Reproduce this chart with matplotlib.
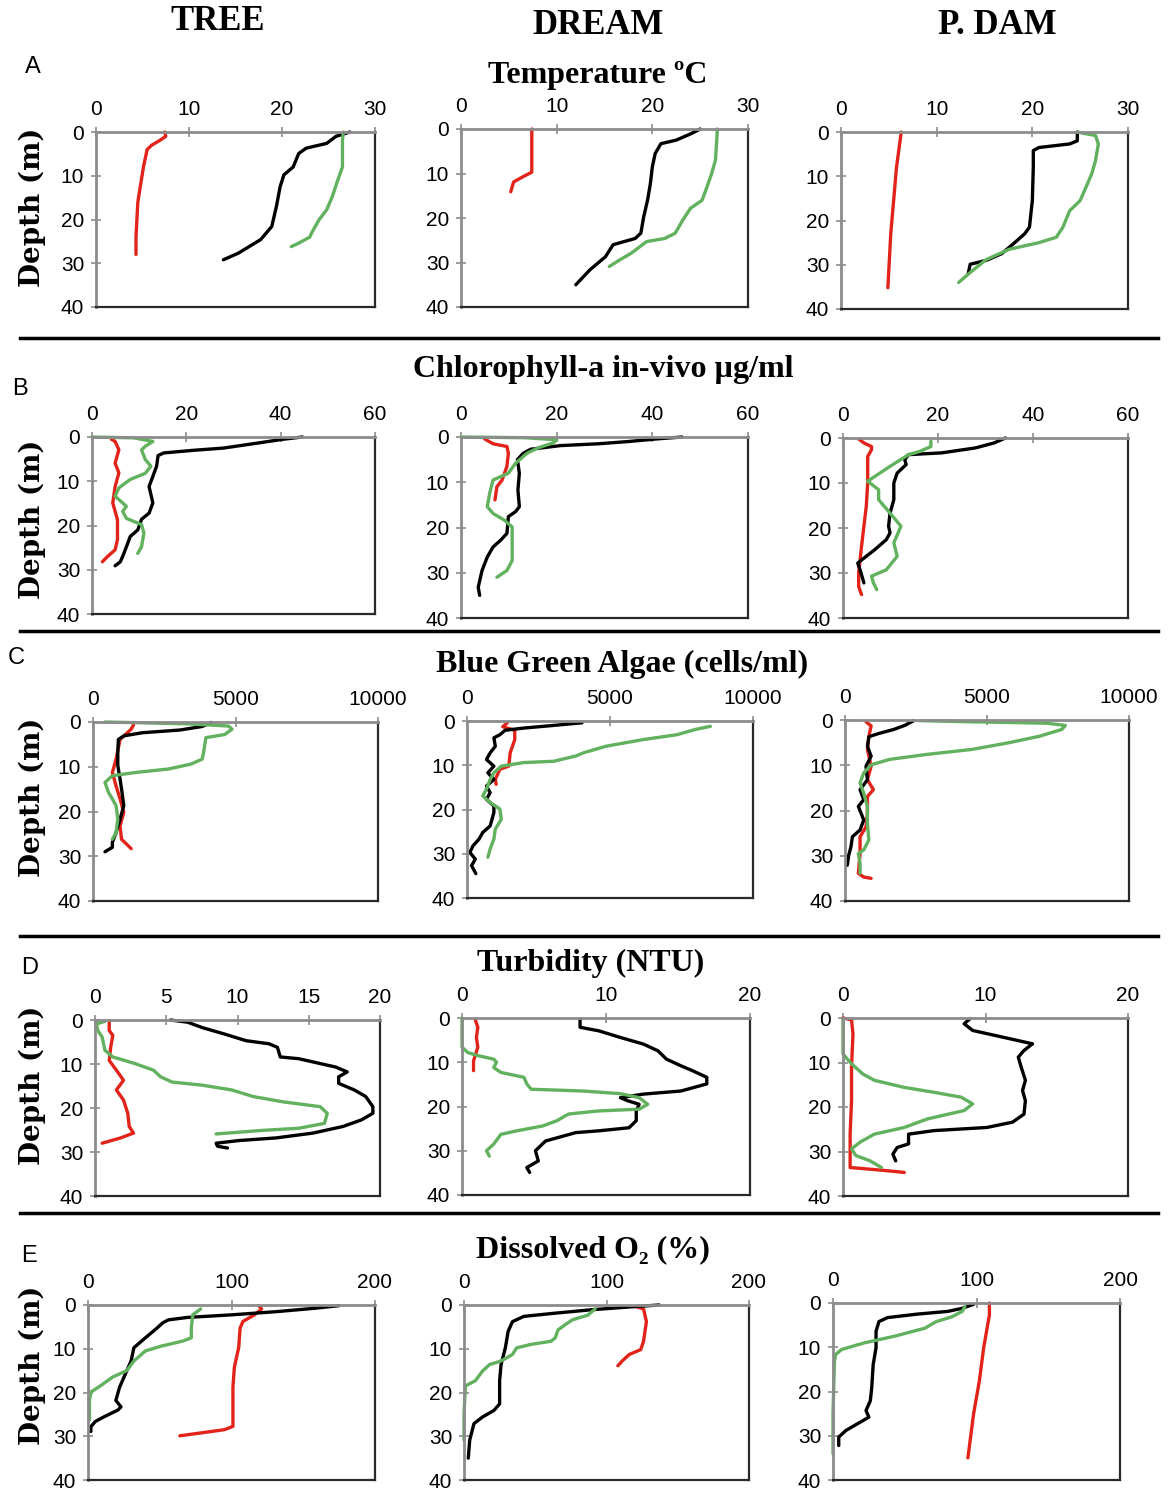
import numpy as np
import matplotlib.pyplot as plt
from matplotlib.lines import Line2D

# ---- data (value, depth) ----
# Temperature (C)
temp_tree_red = [7.4, 7.5, 6.8, 6.0, 5.5, 5.3, 5.1, 4.8, 4.5, 4.4, 4.3, 4.3]
temp_tree_red_z = [0, 1, 2, 3, 4, 6, 8, 12, 16, 20, 24, 28]
temp_tree_black = [27.3, 25.8, 24.8, 22.6, 21.8, 21.2, 20.2, 19.8, 19.4, 18.9, 17.7, 15.3, 13.7]
temp_tree_black_z = [0, 1, 2.6, 3.7, 4.9, 8, 9.8, 12.5, 17, 21.6, 24.6, 27.7, 29.2]
temp_tree_green = [26.6, 26.5, 26.5, 26.0, 25.4, 24.8, 24.0, 23.2, 23.0, 21.8, 21.0]
temp_tree_green_z = [0, 1.8, 8, 11, 14.8, 17.8, 20, 23, 24, 25.4, 26.2]

temp_dream_red = [7.4, 7.4, 7.4, 6.5, 5.5, 5.2]
temp_dream_red_z = [0, 8.5, 9.7, 10.7, 11.9, 14.1]
temp_dream_black = [25.0, 24.1, 22.5, 20.9, 20.3, 20.0, 19.8, 19.5, 19.1, 18.8, 18.2, 15.9, 15.1, 13.5, 12.0]
temp_dream_black_z = [0, 1, 2.5, 3.3, 5.5, 8.5, 12.2, 16, 19.7, 23.4, 24.6, 26, 28.7, 31.6, 35]
temp_dream_green = [26.8, 26.6, 26.2, 25.6, 25.2, 24.0, 23.2, 22.4, 21.3, 19.4, 17.8, 16.6, 15.5]
temp_dream_green_z = [0, 7, 10, 13.7, 16, 17.8, 20.4, 23.4, 24.6, 25.3, 27.9, 29.4, 30.9]

temp_pdam_red = [6.3, 5.8, 5.5, 5.2, 4.9]
temp_pdam_red_z = [0, 8, 15.5, 23, 35.2]
temp_pdam_black = [24.7, 24.7, 23.9, 20.7, 20.1, 20.1, 20.0, 19.7, 19.2, 18.0, 16.8, 15.2, 13.5, 13.3]
temp_pdam_black_z = [0, 2, 2.7, 3.5, 4.2, 8, 15.5, 21.5, 23, 25.3, 27.5, 29, 29.9, 32]
temp_pdam_green = [24.7, 26.6, 26.9, 26.6, 26.2, 25.6, 25.0, 23.9, 23.2, 22.5, 20.7, 17.6, 15.2, 13.7, 12.3]
temp_pdam_green_z = [0, 0.8, 2.7, 6.5, 9.5, 12.5, 15.5, 17.8, 21.5, 23.8, 25, 26.5, 28.8, 31.4, 34]

# Chlorophyll-a (ug/ml)
chl_tree_red = [4.1, 4.9, 5.7, 4.9, 5.7, 4.9, 4.4, 5.4, 5.4, 4.9, 3.3, 2.2]
chl_tree_red_z = [0.5, 1, 2.9, 5.9, 8.1, 11.2, 14.9, 18.7, 23.2, 25.5, 27, 28.2]
chl_tree_black = [44.6, 40.6, 34.3, 27.9, 21.6, 15.2, 14.0, 13.7, 12.9, 12.1, 12.9, 12.1, 10.5, 9.7, 8.1, 7.3, 6.5, 6.0, 4.9]
chl_tree_black_z = [0, 0.5, 1.5, 2.5, 3, 3.6, 4.2, 6.6, 8.9, 11.2, 14.9, 17.2, 18.6, 21, 22.5, 24.8, 27, 28.2, 29.1]
chl_tree_green = [0, 8.9, 12.9, 11.3, 10.5, 11.3, 12.5, 11.3, 8.1, 5.7, 4.9, 6.5, 7.3, 6.5, 7.3, 10.5, 11.0, 10.5, 9.7]
chl_tree_green_z = [0, 0.2, 1, 2.1, 2.9, 5.1, 6.6, 8.2, 9.6, 11.5, 13.4, 14.9, 15.7, 16.8, 18.4, 19.8, 21.7, 24.8, 26.3]

chl_dream_red = [4.9, 6.7, 9.6, 9.9, 9.6, 8.6, 7.5, 7.1]
chl_dream_red_z = [0.4, 1.5, 2.1, 3.6, 6.5, 9.5, 11, 13.9]
chl_dream_black = [46.2, 41.2, 35.0, 28.7, 20.8, 14.6, 13.0, 11.8, 12.2, 11.9, 12.2, 11.4, 9.9, 9.6, 8.3, 6.7, 5.5, 4.4, 3.6, 3.9]
chl_dream_black_z = [0, 0.4, 1, 1.5, 1.9, 2.7, 3.6, 5, 8, 11.7, 15.4, 16.5, 17.6, 21.3, 22.8, 24.3, 26.5, 29.5, 33.2, 35]
chl_dream_green = [0, 13.0, 20.0, 19.3, 16.1, 13.8, 11.4, 9.9, 6.7, 6.0, 5.5, 6.7, 9.1, 10.7, 10.7, 10.7, 9.6, 7.5]
chl_dream_green_z = [0, 0.15, 0.6, 1.3, 2.4, 3.6, 5.8, 8, 9.5, 12.4, 15.4, 16.9, 18.4, 19.9, 22.8, 27.3, 29.5, 31]

chl_pdam_red = [3.3, 4.4, 6.0, 6.0, 5.2, 5.2, 4.9, 4.4, 3.9, 3.3, 3.3, 3.9]
chl_pdam_red_z = [0.2, 1.1, 1.9, 2.6, 4.1, 10, 15.2, 19.6, 24.1, 30, 33, 34.8]
chl_pdam_black = [34.2, 31.8, 27.9, 20.8, 13.8, 13.0, 13.3, 11.4, 10.7, 10.7, 9.9, 9.6, 9.9, 9.1, 6.7, 4.4, 3.1, 3.6, 4.4]
chl_pdam_black_z = [0, 1.1, 2.2, 3.3, 3.7, 4.8, 5.9, 7.8, 10, 13.7, 16.7, 19.6, 21.1, 22.6, 24.8, 26.7, 27.8, 29.3, 32.2]
chl_pdam_green = [18.5, 18.5, 16.1, 13.8, 9.9, 5.2, 7.5, 7.5, 9.9, 12.2, 10.7, 11.4, 9.1, 6.0, 6.4, 7.1]
chl_pdam_green_z = [0.7, 1.9, 3, 3.7, 6.3, 9.6, 11.5, 13.7, 16.7, 19.6, 23.3, 26.3, 29.3, 30.7, 32.2, 33.7]

# Blue green algae (cells/ml)
bga_tree_red = [1420, 1340, 950, 810, 680, 810, 950, 1080, 950, 1000, 1340]
bga_tree_red_z = [0.7, 1.6, 3.9, 8.3, 11.3, 14.3, 17.2, 20.2, 23.2, 26.2, 28.3]
bga_tree_black = [4150, 3830, 3040, 1730, 1080, 890, 870, 870, 950, 1020, 1080, 950, 810, 680, 680, 420]
bga_tree_black_z = [0.1, 1, 1.8, 2.4, 3.1, 3.9, 6.8, 9.7, 12.8, 15.8, 18.7, 21.7, 24.7, 26.9, 28, 29]
bga_tree_green = [420, 3300, 4750, 4880, 4620, 3960, 3880, 3830, 3440, 2650, 1470, 680, 420, 550, 680, 810, 870, 810, 680]
bga_tree_green_z = [0, 0.4, 0.9, 1.6, 2.8, 3.5, 6.8, 8.3, 9.4, 10.5, 11.3, 12, 13.5, 15.8, 17.2, 18.7, 21.7, 24.7, 26.2]

bga_dream_red = [1410, 1250, 1670, 1670, 1510, 1460, 1150, 990, 1020]
bga_dream_red_z = [0.4, 1.3, 2.1, 4.2, 7.2, 10.2, 10.9, 13.2, 14.3]
bga_dream_black = [4020, 3030, 1980, 1330, 1150, 940, 990, 810, 680, 940, 730, 940, 680, 810, 680, 940, 940,
                   810, 550, 420, 210, 100, 290, 160, 310]
bga_dream_black_z = [0.4, 1, 1.6, 2.1, 3.1, 3.8, 5.7, 7.2, 8.7, 10.2, 11.7, 13.2, 14.7, 16.2, 17.7, 19.2, 20.7,
                     23.7, 25.2, 26.7, 28.2, 29.7, 31.2, 32.7, 34.5]
bga_dream_green = [8510, 7990, 7340, 6160, 4860, 4070, 3810, 3030, 1980, 1200, 940, 810, 680, 550, 810, 1150,
                   1200, 990, 940, 810, 730]
bga_dream_green_z = [1.2, 1.9, 3.1, 4.2, 5.7, 7.2, 7.9, 9.1, 9.4, 10.2, 11.7, 13.2, 15.4, 16.9, 18.4, 19.9,
                     22.2, 24.4, 26.7, 28.9, 30.8]

bga_pdam_red = [740, 920, 840, 790, 920, 790, 1000, 790, 790, 740, 530, 530, 470, 660, 920]
bga_pdam_red_z = [0.4, 1.3, 3.6, 6.5, 10.2, 13.2, 15.4, 16.9, 20.6, 23.6, 25.8, 29.5, 33.9, 34.7, 35]
bga_pdam_black = [2420, 2100, 1710, 1180, 840, 790, 920, 740, 790, 530, 660, 470, 660, 530, 260, 210, 130, 80]
bga_pdam_black_z = [0.15, 1.2, 2.1, 3, 3.7, 5.8, 8, 10.2, 13.2, 15.4, 17.6, 19.1, 22.1, 24.3, 25.8, 28, 29.9, 32.1]
bga_pdam_green = [2630, 4470, 7100, 7760, 7630, 6840, 5790, 4470, 2890, 1580, 920, 660, 530, 660, 790, 790,
                  840, 660, 470, 530, 530]
bga_pdam_green_z = [0.15, 0.4, 0.7, 1.2, 2.1, 3.6, 5, 6.5, 7.6, 8.7, 9.9, 11.7, 13.9, 16.2, 19.1, 22.8,
                    26.5, 28.7, 29.5, 31.7, 33.9]

# Turbidity (NTU)
turb_tree_red = [1.0, 1.0, 1.25, 1.1, 1.0, 1.5, 2.0, 1.5, 2.0, 2.3, 2.4, 2.7, 1.8, 0.5]
turb_tree_red_z = [0.15, 2.4, 3.5, 6.2, 9.2, 11.4, 13.7, 15.9, 18.2, 21.2, 24.2, 25.7, 26.8, 28]
turb_tree_black = [5.3, 6.5, 7.5, 9.1, 10.6, 12.2, 12.8, 13.0, 14.3, 15.8, 16.9, 17.7, 17.1, 17.1, 18.2, 19.0,
                   19.5, 19.5, 18.7, 17.4, 15.3, 12.7, 10.1, 8.5, 8.6, 9.3]
turb_tree_black_z = [0, 0.5, 1.7, 3.2, 4.7, 5.4, 6.2, 8.4, 8.8, 9.9, 10.7, 11.8, 12.9, 14.4, 15.9, 17.4,
                     19.7, 21.2, 22.7, 24.2, 25.7, 26.8, 27.4, 28, 28.7, 29.1]
turb_tree_green = [0.7, 0.1, 0.2, 0.5, 0.7, 1.25, 2.8, 4.1, 4.6, 5.4, 7.5, 9.6, 11.1, 13.2, 15.8, 16.3, 16.1,
                   14.3, 11.7, 8.5]
turb_tree_green_z = [0.3, 0.9, 2.4, 3.9, 6.9, 8.4, 9.9, 11.4, 12.9, 14.1, 14.8, 15.9, 17.4, 18.6, 19.7, 21.2,
                     23.5, 24.6, 25.1, 25.9]

turb_dream_red = [0.9, 1.1, 1.0, 1.1, 0.8, 0.8]
turb_dream_red_z = [0.2, 2.1, 4.4, 6.6, 9.7, 11.9]
turb_dream_black = [8.2, 8.2, 9.5, 11.0, 12.6, 13.6, 14.2, 15.2, 16.0, 17.0, 17.0, 15.2, 12.6, 11.0, 11.5, 12.3,
                    12.1, 12.1, 11.6, 9.5, 7.9, 5.8, 5.1, 5.3, 4.5, 4.7]
turb_dream_black_z = [0.2, 2.1, 2.9, 4.4, 5.9, 7.4, 9.3, 10.8, 11.9, 13.4, 14.9, 16.5, 17.2, 18, 18.7, 19.5,
                      21, 23.2, 24.8, 25.5, 25.9, 27.8, 30, 32.3, 33.8, 34.9]
turb_dream_green = [0, 0, 0.4, 1.1, 2.2, 2.4, 2.2, 2.7, 4.3, 4.5, 4.8, 8.4, 11.0, 12.3, 12.9, 12.3, 9.5, 7.4,
                    6.6, 5.6, 3.8, 2.7, 2.2, 1.7, 1.9]
turb_dream_green_z = [0, 6.6, 7.8, 8.5, 9.3, 10, 11.2, 12.3, 13.4, 14.9, 16.1, 16.5, 17.1, 18, 19.5, 20.6, 21,
                      21.7, 23.2, 24.4, 25.5, 26.3, 28.5, 30, 31.2]

turb_pdam_red = [0, 0.6, 0.7, 0.6, 0.6, 0.5, 0.5, 2.7, 4.3]
turb_pdam_red_z = [0, 0.4, 3.6, 11, 18.6, 26.1, 33.6, 34.2, 34.7]
turb_pdam_black = [8.9, 8.5, 9.1, 11.2, 13.3, 12.7, 12.3, 12.5, 12.8, 12.6, 12.8, 12.7, 11.9, 10.1, 6.4, 4.6,
                   4.6, 3.8, 3.5, 3.7]
turb_pdam_black_z = [0.2, 1.3, 2.8, 4.3, 5.8, 7.3, 8.8, 11, 14, 16.3, 18.6, 21.6, 23.4, 24.6, 25.3, 26.1,
                     28.3, 29.1, 30.6, 32.1]
turb_pdam_green = [0, 0, 0.6, 1.4, 2.2, 4.3, 6.4, 8.3, 9.1, 8.5, 5.9, 4.3, 2.2, 1.2, 0.6, 0.9, 1.9, 2.7]
turb_pdam_green_z = [0.2, 8.1, 10.3, 12.6, 14, 15.6, 16.7, 17.8, 19.3, 20.8, 22.7, 24.6, 26.1, 27.9, 29.4,
                     30.9, 32.1, 33.6]

# Dissolved O2 (%)
do_tree_red = [119, 121, 116, 108, 106, 105, 102, 101, 101, 101, 95, 64]
do_tree_red_z = [0.15, 0.9, 2.25, 3.75, 5.25, 9.75, 14.25, 18.75, 24, 27.75, 28.5, 29.9]
do_tree_black = [175, 158, 132, 100, 69, 56, 52, 48, 40, 32, 30, 26, 22, 19.4, 23, 20.9, 11.5, 5.2, 2, 2]
do_tree_black_z = [0.15, 0.75, 1.5, 2.25, 2.85, 3.4, 4.1, 5.3, 7.5, 9.75, 12.8, 15.8, 18.8, 21.8, 23.3, 24,
                   25.5, 26.6, 27.8, 28.9]
do_tree_green = [78.5, 73, 72, 72, 66, 51, 40, 32, 27, 17, 9, 2, 1, 1]
do_tree_green_z = [0.9, 2.25, 5.25, 7.5, 8.25, 9.4, 10.5, 12.8, 15, 16.5, 18.4, 19.9, 21.8, 26.3]

do_dream_red = [121, 126, 128, 126, 124, 116, 111, 108]
do_dream_red_z = [0.4, 0.9, 3.8, 8.3, 10.2, 11.3, 12.8, 13.9]
do_dream_black = [137, 116, 89, 63, 42, 34, 31, 29, 26, 25, 25, 21, 13, 7, 4, 3]
do_dream_black_z = [0, 0.45, 1.1, 1.9, 2.6, 3.8, 6, 9.8, 13.6, 17.3, 22.6, 24.1, 25.6, 27.1, 30.9, 35]
do_dream_green = [92, 87, 76, 71, 66, 64, 61, 47, 37, 34, 26, 18, 13, 8, 1, 0, 0]
do_dream_green_z = [0.9, 2.3, 3.4, 4.5, 5.7, 7.5, 8.3, 9, 9.8, 11.3, 12.8, 13.6, 15.1, 17.3, 18.5, 24.9, 30.9]

do_pdam_red = [109, 109, 105, 102, 98, 94]
do_pdam_red_z = [0, 2.7, 10.1, 17.6, 25, 35]
do_pdam_black = [98, 90, 80, 59, 38, 32, 30, 30, 28, 27, 26, 23, 25, 17, 9, 4, 4]
do_pdam_black_z = [0.3, 1.2, 1.9, 2.5, 3.3, 4.2, 6.4, 10.1, 13.9, 19.1, 22.1, 24.3, 25.8, 27.3, 28.8, 30.3, 32.2]
do_pdam_green = [92, 90, 83, 72, 64, 43, 22, 6, 2, 1, 0, 0]
do_pdam_green_z = [0.8, 1.9, 3.1, 4.2, 5.7, 7.5, 9, 10.5, 11.6, 13.1, 25, 34]

sites = ['TREE', 'DREAM', 'P. DAM']
row_titles = ['Temperature ºC', 'Chlorophyll-a in-vivo µg/ml', 'Blue Green Algae (cells/ml)',
              'Turbidity (NTU)', 'Dissolved O₂ (%)']
row_letters = ['A', 'B', 'C', 'D', 'E']
depth_ticks = [0, 10, 20, 30, 40]
x_ticks = [
    [[0, 10, 20, 30]] * 3,
    [[0, 20, 40, 60]] * 3,
    [[0, 5000, 10000]] * 3,
    [[0, 5, 10, 15, 20], [0, 10, 20], [0, 10, 20]],
    [[0, 100, 200]] * 3,
]

profiles = [
    [[(temp_tree_red, temp_tree_red_z), (temp_tree_black, temp_tree_black_z), (temp_tree_green, temp_tree_green_z)],
     [(temp_dream_red, temp_dream_red_z), (temp_dream_black, temp_dream_black_z), (temp_dream_green, temp_dream_green_z)],
     [(temp_pdam_red, temp_pdam_red_z), (temp_pdam_black, temp_pdam_black_z), (temp_pdam_green, temp_pdam_green_z)]],
    [[(chl_tree_red, chl_tree_red_z), (chl_tree_black, chl_tree_black_z), (chl_tree_green, chl_tree_green_z)],
     [(chl_dream_red, chl_dream_red_z), (chl_dream_black, chl_dream_black_z), (chl_dream_green, chl_dream_green_z)],
     [(chl_pdam_red, chl_pdam_red_z), (chl_pdam_black, chl_pdam_black_z), (chl_pdam_green, chl_pdam_green_z)]],
    [[(bga_tree_red, bga_tree_red_z), (bga_tree_black, bga_tree_black_z), (bga_tree_green, bga_tree_green_z)],
     [(bga_dream_red, bga_dream_red_z), (bga_dream_black, bga_dream_black_z), (bga_dream_green, bga_dream_green_z)],
     [(bga_pdam_red, bga_pdam_red_z), (bga_pdam_black, bga_pdam_black_z), (bga_pdam_green, bga_pdam_green_z)]],
    [[(turb_tree_red, turb_tree_red_z), (turb_tree_black, turb_tree_black_z), (turb_tree_green, turb_tree_green_z)],
     [(turb_dream_red, turb_dream_red_z), (turb_dream_black, turb_dream_black_z), (turb_dream_green, turb_dream_green_z)],
     [(turb_pdam_red, turb_pdam_red_z), (turb_pdam_black, turb_pdam_black_z), (turb_pdam_green, turb_pdam_green_z)]],
    [[(do_tree_red, do_tree_red_z), (do_tree_black, do_tree_black_z), (do_tree_green, do_tree_green_z)],
     [(do_dream_red, do_dream_red_z), (do_dream_black, do_dream_black_z), (do_dream_green, do_dream_green_z)],
     [(do_pdam_red, do_pdam_red_z), (do_pdam_black, do_pdam_black_z), (do_pdam_green, do_pdam_green_z)]],
]

# ---- layout (pixel boxes: left, top, right, bottom) ----
W, H = 1173, 1490
boxes = [
    [(96, 132, 375, 307), (461, 129, 748, 307), (841, 132, 1128, 309)],
    [(92, 437, 375, 614), (461, 437, 748, 618), (843, 438, 1128, 618)],
    [(93, 722, 378, 901), (467, 721, 753, 898), (845, 720, 1129, 901)],
    [(95, 1020, 380, 1196), (462, 1018, 750, 1195), (843, 1018, 1128, 1196)],
    [(88, 1305, 375, 1480), (464, 1305, 749, 1480), (833, 1303, 1120, 1480)],
]
title_pos = [(598, 76), (603, 370), (622, 664), (591, 963), (593, 1250)]
letter_pos = [(33, 67), (20, 389), (16, 658), (30, 968), (29, 1256)]
depth_label_y = [207, 519, 797, 1085, 1365]
site_pos = [(218, 22), (598, 25), (997, 25)]
separators = [338, 631, 936, 1213]

colors = ['#e2231a', 'black', '#62b15e']
serif = ['Liberation Serif', 'DejaVu Serif']
plt.rcParams['font.family'] = ['Liberation Sans Narrow', 'Liberation Sans', 'DejaVu Sans']

fig = plt.figure(figsize=(W / 100, H / 100), dpi=100)

for r in range(5):
    for c in range(3):
        l, t, rr, b = boxes[r][c]
        ax = fig.add_axes([l / W, 1 - b / H, (rr - l) / W, (b - t) / H])
        for k, (vals, deps) in enumerate(profiles[r][c]):
            ax.plot(vals, deps, color=colors[k], lw=2.4, solid_capstyle='round', clip_on=False)
        xt = x_ticks[r][c]
        ax.set_xlim(xt[0], xt[-1])
        ax.set_ylim(40, 0)
        ax.set_xticks(xt)
        ax.set_yticks(depth_ticks)
        ax.xaxis.tick_top()
        ax.tick_params(axis='both', direction='inout', length=7, width=1.2, color='#8c8c8c',
                       labelsize=15, pad=5)
        ax.tick_params(axis='x', pad=6)
        for s in ['top', 'left']:
            ax.spines[s].set_color('#8c8c8c')
            ax.spines[s].set_linewidth(2.0)
        for s in ['bottom', 'right']:
            ax.spines[s].set_color('#2a2a2a')
            ax.spines[s].set_linewidth(1.6)

    tx, ty = title_pos[r]
    fig.text(tx / W, 1 - ty / H, row_titles[r], ha='center', va='center',
             family=serif, weight='bold', fontsize=23)
    lx, ly = letter_pos[r]
    fig.text(lx / W, 1 - ly / H, row_letters[r], ha='center', va='center', fontsize=17)
    fig.text(32 / W, 1 - depth_label_y[r] / H, 'Depth (m)', rotation=90, ha='center', va='center',
             family=['DejaVu Serif'], weight='bold', fontsize=20)

for i, name in enumerate(sites):
    sx, sy = site_pos[i]
    fig.text(sx / W, 1 - sy / H, name, ha='center', va='center', family=serif, weight='bold', fontsize=25)

for y in separators:
    fig.add_artist(Line2D([20 / W, 1158 / W], [1 - y / H, 1 - y / H], color='black', lw=2.5))

plt.savefig('out.png', dpi=100)
plt.close()
